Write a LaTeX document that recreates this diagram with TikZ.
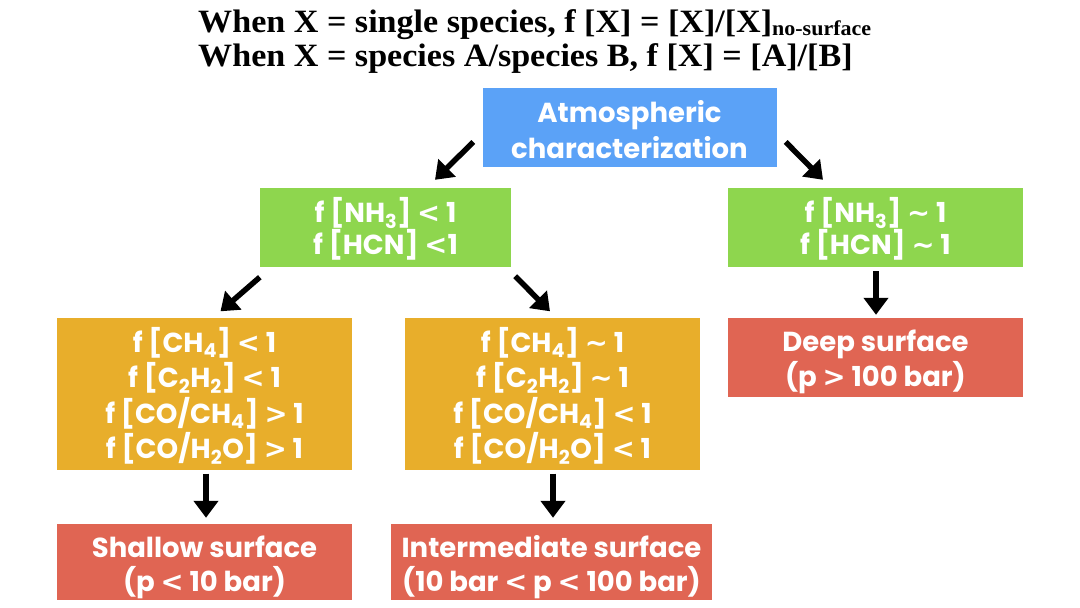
\documentclass[tikz,border=0pt]{standalone}
\usepackage{fontspec}
\usepackage{graphicx}
\setmainfont{Liberation Serif}
\newfontfamily\boxfont{Poppins}
\newfontfamily\relfont{DejaVu Sans}
\usetikzlibrary{arrows.meta,calc}
\definecolor{cblue}{RGB}{91,162,247}
\definecolor{cgreen}{RGB}{142,214,78}
\definecolor{corange}{RGB}{232,174,43}
\definecolor{cred}{RGB}{224,101,83}
\newcommand{\tld}{{\relfont\textasciitilde}}
\newcommand{\rlt}{{\relfont <}}
\newcommand{\rgt}{{\relfont >}}
\begin{document}
\begin{tikzpicture}[x=1pt,y=-1pt,
  box/.style={rectangle, inner sep=0pt},
  btext/.style={text=white, align=center, inner sep=0pt,
    font=\boxfont\bfseries\fontsize{27.5}{#1}\selectfont},
  bluebox/.style={box, fill=cblue, minimum width=294pt, minimum height=79pt},
  greenbox/.style={box, fill=cgreen, minimum height=79pt},
  orangebox/.style={box, fill=corange, minimum width=295pt, minimum height=152pt},
  redbox/.style={box, fill=cred, minimum height=76pt},
  arr/.style={line width=5.5pt, -{Triangle[length=17pt,width=24pt]}},
  title/.style={anchor=west, inner sep=0pt, font=\bfseries\fontsize{31}{33}\selectfont}
]
\useasboundingbox (0,0) rectangle (1080,608);
\fill[white] (0,0) rectangle (1080,608);

\node[title] (t1) at (198,25) {\scalebox{1.1}[1.05]{When X = single species, f [X] = [X]/[X]\raisebox{-2.5pt}{\fontsize{20}{20}\selectfont no-surface}}};
\node[title] (t2) at (198,59) {\scalebox{1.1}[1.05]{When X = species A/species B, f [X] = [A]/[B]}};

\node[bluebox, label={[btext=36, yshift=-2pt]center:{Atmospheric\\characterization}}] (atm) at (629.5,127.5) {};
\node[greenbox, minimum width=251pt, label={[btext=32.5, yshift=-1.5pt]center:{f [NH\textsubscript{3}] \rlt\ 1\\f [HCN] \rlt 1}}] (g1) at (385.5,227.5) {};
\node[greenbox, minimum width=295pt, label={[btext=32.5, yshift=-1.5pt]center:{f [NH\textsubscript{3}] \tld\ 1\\f [HCN] \tld\ 1}}] (g2) at (875.5,227.5) {};
\node[orangebox, label={[btext=35.5, yshift=-2.5pt]center:{f [CH\textsubscript{4}] \rlt\ 1\\f [C\textsubscript{2}H\textsubscript{2}] \rlt\ 1\\f [CO/CH\textsubscript{4}] \rgt\ 1\\f [CO/H\textsubscript{2}O] \rgt\ 1}}] (o1) at (204.5,393.5) {};
\node[orangebox, label={[btext=35.5, yshift=-2.5pt]center:{f [CH\textsubscript{4}] \tld\ 1\\f [C\textsubscript{2}H\textsubscript{2}] \tld\ 1\\f [CO/CH\textsubscript{4}] \rlt\ 1\\f [CO/H\textsubscript{2}O] \rlt\ 1}}] (o2) at (552.5,393.5) {};
\node[redbox, minimum width=295pt, label={[btext=34, yshift=-5pt]center:{Shallow surface\\(p \rlt\ 10 bar)}}] (r1) at (204.5,562) {};
\node[redbox, minimum width=321pt, label={[btext=34, yshift=-5pt]center:{Intermediate surface\\(10 bar \rlt\ p \rlt\ 100 bar)}}] (r2) at (551.5,562) {};
\node[redbox, minimum width=295pt, minimum height=79pt, label={[btext=35, yshift=-4.5pt]center:{Deep surface\\(p \rgt\ 100 bar)}}] (r3) at (875.5,357.5) {};

\draw[arr] ($(atm.west)+(-9,14.5)$) -- ($(g1.north)+(49.5,-8)$);
\draw[arr] ($(atm.east)+(9,14.5)$) -- ($(g2.north)+(-52.5,-8)$);
\draw[arr] ($(g1.south west)+(0,10)$) -- ($(o1.north)+(16,-6)$);
\draw[arr] ($(g1.south east)+(4,9)$) -- ($(o2.north)+(-2.5,-6)$);
\draw[arr] ($(o1.south)+(1.5,4)$) -- ($(r1.north)+(1.5,-6)$);
\draw[arr] ($(o2.south)+(0.5,4)$) -- ($(r2.north)+(1.5,-6)$);
\draw[arr] ($(g2.south)+(0.5,4)$) -- ($(r3.north)+(0.5,-3)$);
\end{tikzpicture}
\end{document}
